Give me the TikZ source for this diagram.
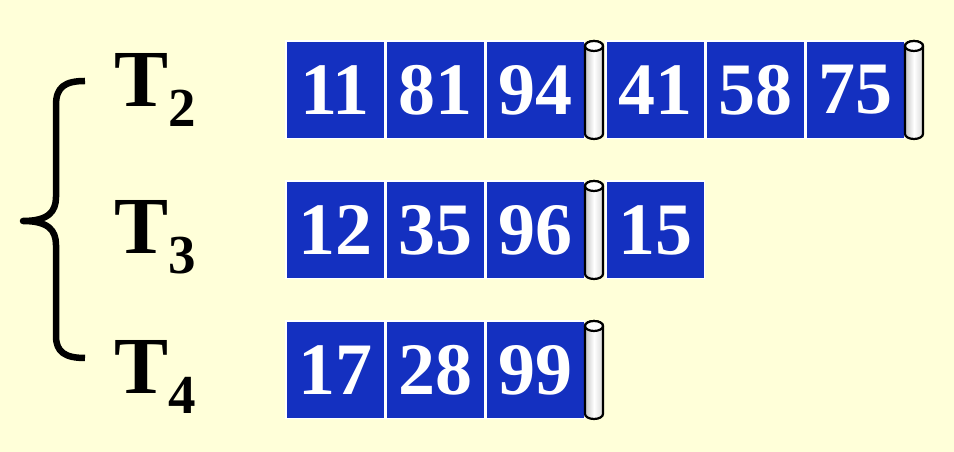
\documentclass[tikz,border=0pt]{standalone}
\usepackage{fontspec}
\setmainfont{Liberation Serif}
\definecolor{cellblue}{RGB}{20,48,192}
\definecolor{paper}{RGB}{255,255,217}
% cylinder drawn over an empty node
\newcommand{\roll}[1]{%
  \shadedraw[left color=gray!45, right color=gray!30, middle color=white, line width=2.2pt]
    ([yshift=-5pt]#1.north west) -- ([yshift=5pt]#1.south west)
    arc (180:360:9pt and 5pt) -- ([yshift=-5pt]#1.north east)
    arc (0:180:9pt and 5pt) -- cycle;
  \filldraw[fill=white, line width=2.2pt] ([yshift=-5pt]#1.north) ellipse (9pt and 5pt);
}

\begin{document}
\begin{tikzpicture}[x=1pt, y=1pt, node distance=100pt]
    \tikzstyle{cell} = [draw=white, line width=1.5pt, fill=cellblue, rectangle,
    text=white, font=\bfseries\fontsize{74}{74}\selectfont,
    minimum width=98.5pt, minimum height=97.5pt, inner sep=0pt]
    \tikzstyle{gap} = [rectangle, minimum width=18pt, minimum height=98pt,
    inner sep=0pt, outer sep=0pt]
    \tikzstyle{tname} = [anchor=base west, inner sep=0pt,
    font=\bfseries\fontsize{81}{81}\selectfont]
    \fill[paper] (0,0) rectangle (954,452);
    \useasboundingbox (0,0) rectangle (954,452);
    % first tape
    \node[cell] (a1) at (335,362) {11};
    \node[cell, right of=a1] (a2) {81};
    \node[cell, right of=a2] (a3) {94};
    \node[gap, right of=a3, node distance=59pt] (ra1) {};
    \node[cell, right of=ra1, node distance=61pt] (a4) {41};
    \node[cell, right of=a4] (a5) {58};
    \node[cell, right of=a5] (a6) {75};
    \node[gap, right of=a6, node distance=59pt] (ra2) {};
    % second tape
    \node[cell] (b1) at (335,222) {12};
    \node[cell, right of=b1] (b2) {35};
    \node[cell, right of=b2] (b3) {96};
    \node[gap, right of=b3, node distance=59pt] (rb1) {};
    \node[cell, right of=rb1, node distance=61pt] (b4) {15};
    % third tape
    \node[cell] (c1) at (335,82) {17};
    \node[cell, right of=c1] (c2) {28};
    \node[cell, right of=c2] (c3) {99};
    \node[gap, right of=c3, node distance=59pt] (rc1) {};
    \roll{ra1} \roll{ra2} \roll{rb1} \roll{rc1}
    % tape names
    \node[tname] (t2) at (114,345) {T\raisebox{-20pt}{\fontsize{55}{55}\selectfont 2}};
    \node[tname] (t3) at (114,198) {T\raisebox{-20pt}{\fontsize{55}{55}\selectfont 3}};
    \node[tname] (t4) at (114,58) {T\raisebox{-20pt}{\fontsize{55}{55}\selectfont 4}};
    \draw[line width=6.5pt, line join=round] (85,371)
        .. controls (65,371) and (56,365) .. (56,347) -- (56,255)
        .. controls (56,240) and (48,231) .. (23,231)
        .. controls (48,231) and (56,222) .. (56,207) -- (56,116)
        .. controls (56,100) and (65,94) .. (85,94);
\end{tikzpicture}
\end{document}
